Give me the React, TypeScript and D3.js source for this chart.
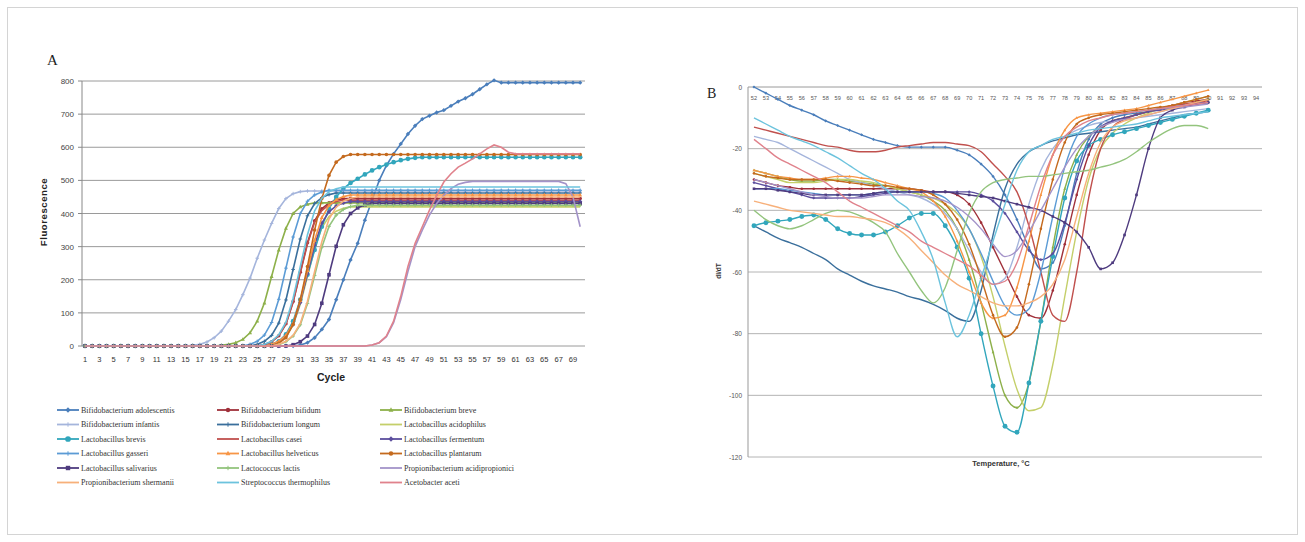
import React from 'react';
import * as d3 from 'd3';

// ---------- Panel A data (cycles 1..70) ----------
const cycleTicks = [1,3,5,7,9,11,13,15,17,19,21,23,25,27,29,31,33,35,37,39,41,43,45,47,49,51,53,55,57,59,61,63,65,67,69];
const cycles = [1,2,3,4,5,6,7,8,9,10,11,12,13,14,15,16,17,18,19,20,21,22,23,24,25,26,27,28,29,30,31,32,33,34,35,36,37,38,39,40,41,42,43,44,45,46,47,48,49,50,51,52,53,54,55,56,57,58,59,60,61,62,63,64,65,66,67,68,69,70];
const yTicksA = [0,100,200,300,400,500,600,700,800];

const seriesNames = [
  'Bifidobacterium adolescentis','Bifidobacterium bifidum','Bifidobacterium breve',
  'Bifidobacterium infantis','Bifidobacterium longum','Lactobacillus acidophilus',
  'Lactobacillus brevis','Lactobacillus casei','Lactobacillus fermentum',
  'Lactobacillus gasseri','Lactobacillus helveticus','Lactobacillus plantarum',
  'Lactobacillus salivarius','Lactococcus lactis','Propionibacterium acidipropionici',
  'Propionibacterium shermanii','Streptococcus thermophilus','Acetobacter aceti',
];
const seriesColors = ['#4A7EBB','#A0303A','#8DB04A','#A5B5DC','#3A6F9C','#C4CF6A','#31A6BC','#C0504D','#5C4E9E','#5B9BD5','#F79646','#C46A1E','#4E3B7F','#93C47D','#A393C9','#F7B07A','#6CC3DD','#E0828C'];
const seriesMarkers = ['diamond','circle','triangle','plus','plus','none','bigcircle','none','diamond','plus','triangle','circle','square','plus','none','none','none','none'];

const A_adolescentis = [0,0,0,0,0,0,0,0,0,0, 0,0,0,0,0,0,0,0,0,0, 0,0,0,0,0,0,0,0,0,0, 3,10,25,50,80,140,200,260,310,380, 440,500,545,580,610,640,665,685,695,705, 712,725,738,748,760,775,790,802,795,795, 795,795,795,795,795,795,795,795,795,795];
const A_bifidum = [0,0,0,0,0,0,0,0,0,0, 0,0,0,0,0,0,0,0,0,0, 0,0,0,0,0,4,13,31,67,134, 223,312,378,414,432,441,445,445,445,445, 445,445,445,445,445,445,445,445,445,445, 445,445,445,445,445,445,445,445,445,445, 445,445,445,445,445,445,445,445,445,445];
const A_breve = [0,0,0,0,0,0,0,0,0,0, 0,0,0,0,0,0,0,0,0,2, 5,10,20,40,75,130,210,290,355,400, 420,428,432,432,432,432,432,432,432,432, 432,432,432,432,432,432,432,432,432,432, 432,432,432,432,432,432,432,432,432,432, 432,432,432,432,432,432,432,432,432,432];
const A_infantis = [0,0,0,0,0,0,0,0,0,0, 0,0,0,0,0,2,5,12,25,45, 75,110,155,205,265,320,370,415,445,460, 466,468,468,468,468,468,468,468,468,468, 468,468,468,468,468,468,468,468,468,468, 468,468,468,468,468,468,468,468,468,468, 468,468,468,468,468,468,468,468,468,468];
const A_longum = [0,0,0,0,0,0,0,0,0,0, 0,0,0,0,0,0,0,0,0,0, 0,0,0,0,5,14,32,69,139,231, 323,393,430,448,457,462,462,462,462,462, 462,462,462,462,462,462,462,462,462,462, 462,462,462,462,462,462,462,462,462,462, 462,462,462,462,462,462,462,462,462,462];
const A_acidophilus = [0,0,0,0,0,0,0,0,0,0, 0,0,0,0,0,0,0,0,0,0, 0,0,0,0,0,0,4,13,29,63, 126,210,294,357,391,407,416,420,420,420, 420,420,420,420,420,420,420,420,420,420, 420,420,420,420,420,420,420,420,420,420, 420,420,420,420,420,420,420,420,420,420];
const A_brevis = [0,0,0,0,0,0,0,0,0,0, 0,0,0,0,0,0,0,0,0,0, 0,0,0,0,0,0,5,14,35,75, 140,215,290,360,415,450,475,492,505,518, 530,540,548,555,561,565,568,570,570,570, 570,570,570,570,570,570,570,570,570,570, 570,570,570,570,570,570,570,570,570,570];
const A_casei = [0,0,0,0,0,0,0,0,0,0, 0,0,0,0,0,0,0,0,0,0, 0,0,0,0,0,4,13,31,66,132, 220,308,374,409,427,436,440,440,440,440, 440,440,440,440,440,440,440,440,440,440, 440,440,440,440,440,440,440,440,440,440, 440,440,440,440,440,440,440,440,440,440];
const A_fermentum = [0,0,0,0,0,0,0,0,0,0, 0,0,0,0,0,0,0,0,0,0, 0,0,0,0,0,0,4,13,31,65, 131,218,305,371,405,423,432,436,436,436, 436,436,436,436,436,436,436,436,436,436, 436,436,436,436,436,436,436,436,436,436, 436,436,436,436,436,436,436,436,436,436];
const A_gasseri = [0,0,0,0,0,0,0,0,0,0, 0,0,0,0,0,0,0,0,0,0, 0,0,0,5,14,33,71,141,235,329, 400,437,456,465,470,470,470,470,470,470, 470,470,470,470,470,470,470,470,470,470, 470,470,470,470,470,470,470,470,470,470, 470,470,470,470,470,470,470,470,470,470];
const A_helveticus = [0,0,0,0,0,0,0,0,0,0, 0,0,0,0,0,0,0,0,0,0, 0,0,0,0,0,0,5,14,32,68, 137,228,319,388,424,442,451,456,456,456, 456,456,456,456,456,456,456,456,456,456, 456,456,456,456,456,456,456,456,456,456, 456,456,456,456,456,456,456,456,456,456];
const A_plantarum = [0,0,0,0,0,0,0,0,0,0, 0,0,0,0,0,0,0,0,0,0, 0,0,0,0,0,0,0,8,25,65, 140,240,350,445,515,555,572,578,578,578, 578,578,578,578,578,578,578,578,578,578, 578,578,578,578,578,578,578,578,578,578, 578,578,578,578,578,578,578,578,578,578];
const A_salivarius = [0,0,0,0,0,0,0,0,0,0, 0,0,0,0,0,0,0,0,0,0, 0,0,0,0,0,0,0,0,0,4, 13,30,65,129,215,301,366,400,417,426, 430,430,430,430,430,430,430,430,430,430, 430,430,430,430,430,430,430,430,430,430, 430,430,430,430,430,430,430,430,430,430];
const A_lactis = [0,0,0,0,0,0,0,0,0,0, 0,0,0,0,0,0,0,0,0,0, 0,0,0,0,0,0,0,4,13,30, 64,128,213,298,361,395,412,421,425,425, 425,425,425,425,425,425,425,425,425,425, 425,425,425,425,425,425,425,425,425,425, 425,425,425,425,425,425,425,425,425,425];
const A_acidipropionici = [0,0,0,0,0,0,0,0,0,0, 0,0,0,0,0,0,0,0,0,0, 0,0,0,0,0,0,0,0,0,0, 0,0,0,0,0,0,0,0,0,0, 3,10,28,70,140,225,300,350,395,430, 455,475,488,494,497,497,497,497,497,497, 497,497,497,497,497,497,497,490,450,360];
const A_shermanii = [0,0,0,0,0,0,0,0,0,0, 0,0,0,0,0,0,0,0,0,0, 0,0,0,0,0,0,0,5,14,32, 68,135,225,315,383,419,437,446,450,450, 450,450,450,450,450,450,450,450,450,450, 450,450,450,450,450,450,450,450,450,450, 450,450,450,450,450,450,450,450,450,450];
const A_thermophilus = [0,0,0,0,0,0,0,0,0,0, 0,0,0,0,0,0,0,0,0,0, 0,0,0,0,0,5,14,34,72,144, 240,336,408,446,466,475,480,480,480,480, 480,480,480,480,480,480,480,480,480,480, 480,480,480,480,480,480,480,480,480,480, 480,480,480,480,480,480,480,480,480,480];
const A_aceti = [0,0,0,0,0,0,0,0,0,0, 0,0,0,0,0,0,0,0,0,0, 0,0,0,0,0,0,0,0,0,0, 0,0,0,0,0,0,0,0,0,0, 3,10,30,75,150,240,310,360,410,455, 495,520,540,552,565,580,595,607,600,585, 580,580,580,580,580,580,580,580,580,580];

const seriesA = [A_adolescentis,A_bifidum,A_breve,A_infantis,A_longum,A_acidophilus,A_brevis,A_casei,A_fermentum,A_gasseri,A_helveticus,A_plantarum,A_salivarius,A_lactis,A_acidipropionici,A_shermanii,A_thermophilus,A_aceti];

// ---------- Panel B data (temperature 52..90 °C) ----------
const tempCategories = [52,53,54,55,56,57,58,59,60,61,62,63,64,65,66,67,68,69,70,71,72,73,74,75,76,77,78,79,80,81,82,83,84,85,86,87,88,89,90,91,92,93,94];
const tempsData = [52,53,54,55,56,57,58,59,60,61,62,63,64,65,66,67,68,69,70,71,72,73,74,75,76,77,78,79,80,81,82,83,84,85,86,87,88,89,90];
const yTicksB = [0,-20,-40,-60,-80,-100,-120];

const B_adolescentis = [0,-2,-4,-6,-7.5,-9,-11,-12.5,-14,-15.5, -17,-18,-19,-19.5,-19.5,-19.5,-19.5,-20.5,-22,-25, -29,-35,-43,-52,-59,-57,-45,-28,-17,-12, -10,-9,-8.5,-8,-7,-6.5,-6,-5.5,-5];
const B_bifidum = [-30,-31,-32,-32.5,-33,-33,-33,-33,-33,-33, -33,-33,-33,-33,-33.5,-34,-34,-35,-38,-44, -52,-60,-68,-74,-75,-66,-51,-35,-22,-14, -11,-10,-9,-8,-7,-6,-5,-4.5,-4];
const B_breve = [-27,-28,-29,-30,-30.5,-30.5,-30,-30,-30.5,-31, -31.5,-32,-33,-34,-35,-37,-40,-46,-56,-70, -86,-100,-104,-96,-76,-52,-33,-22,-16,-13, -11,-10,-9,-8,-7,-6.5,-6,-5,-4];
const B_infantis = [-16,-17,-18,-20,-22,-24,-26,-28,-30,-31, -32,-33,-34,-35,-36,-38,-41,-46,-53,-60, -64,-62,-52,-38,-27,-20,-16,-14,-12.5,-11.5, -11,-10.5,-10,-9.5,-9,-8.5,-8,-7.5,-7];
const B_longum = [-45,-47,-49,-50.5,-52,-54,-56,-59,-61,-63, -64.5,-65.5,-66.5,-68,-69,-70.5,-72.5,-75,-76,-66, -48,-33,-25,-21,-19,-17.5,-16.5,-15.5,-15,-14.5, -14,-13.5,-13,-12,-11,-10,-9,-8.5,-8];
const B_acidophilus = [-28,-29,-30,-31,-31,-31,-30.5,-30,-30,-30.5, -31,-32,-33,-34,-35,-36,-38,-41,-46,-55, -68,-84,-98,-105,-104,-90,-68,-47,-30,-20, -15,-12,-10,-8.5,-7,-6,-5,-4,-3];
const B_brevis = [-45,-44,-43.5,-43,-42,-41.5,-43,-46,-47.5,-48, -48,-47,-45,-42.5,-41,-41,-45,-52,-62,-80, -97,-110,-112,-96,-76,-55,-36,-24,-19,-17, -15.5,-14.5,-13.5,-12.5,-11.5,-10.5,-9.5,-8.5,-7.5];
const B_casei = [-13,-14,-15,-16,-17,-18,-19,-19.5,-20.5,-21, -21,-20.5,-19.5,-19,-18.5,-18,-18,-18.5,-19,-21, -25,-29,-34,-45,-60,-74,-76,-60,-36,-20, -13,-10.5,-9,-8,-7,-6,-5.5,-5,-4.5];
const B_fermentum = [-31,-32,-33,-34,-35,-36,-36,-36,-36,-35.5, -35,-34.5,-34,-34,-34,-34,-34,-34,-34,-35, -37,-41,-47,-53,-56,-54,-44,-30,-19,-13, -11,-10,-9,-8,-7.5,-7,-6,-5.5,-5];
const B_gasseri = [-33,-33,-33,-33.5,-34,-34.5,-35,-35,-35,-35, -34.5,-34,-34,-34,-34,-34.5,-36,-40,-46,-54, -63,-71,-74,-72,-60,-42,-26,-16,-12,-10, -9,-8.5,-8,-7.5,-7,-6.5,-6,-5.5,-5];
const B_helveticus = [-27,-28,-29,-29.5,-30,-30,-29.5,-29,-29,-29.5, -30,-31,-32,-33,-34,-37,-42,-50,-60,-70, -75,-74,-65,-50,-35,-22,-14,-10,-9,-8.5, -8,-7.5,-7,-6,-5,-4,-3,-2,-1];
const B_plantarum = [-28,-29,-29.5,-30,-30,-30,-30,-30.5,-31,-31.5, -32,-32,-32.5,-33,-33.5,-35,-38,-43,-51,-62, -74,-81,-78,-64,-46,-30,-18,-12,-10,-9, -8.5,-8,-7.5,-7,-6.5,-6,-5,-4,-3];
const B_salivarius = [-33,-33,-33.5,-34,-34.5,-35,-35,-35,-35,-35, -34.5,-34,-34,-34,-34,-34,-34,-34.5,-35,-35.5, -36,-37,-38,-39,-40,-42,-44,-47,-52,-59, -57,-48,-35,-20,-10,-7.5,-6.5,-5.5,-5];
const B_lactis = [-40,-43,-45,-46,-45,-43,-41,-40,-40.5,-42, -44,-47,-54,-60,-66,-70,-65,-53,-41,-34, -31,-30,-29.5,-29,-29,-28.5,-28,-27.5,-27,-26, -25,-23.5,-21,-18,-15.5,-13.5,-12.5,-12.5,-13.5];
const B_acidipropionici = [-30,-31,-32,-33,-34,-35,-35.5,-36,-36,-36, -35.5,-35,-35,-35,-35.5,-36,-37,-39,-42,-46, -51,-55,-53,-47,-40,-33,-26,-20,-16,-13, -11.5,-10.5,-10,-9,-8,-7,-6.5,-6,-5.5];
const B_shermanii = [-37,-38,-39,-40,-40.5,-41,-41.5,-42,-42,-42.5, -43,-44,-46,-49,-53,-57,-61,-64,-66,-68, -70,-71,-71,-70,-68,-64,-56,-42,-28,-18, -13,-11,-10,-9,-8,-7,-6,-5,-4];
const B_thermophilus = [-10,-12,-14,-16,-17.5,-19,-21,-23,-25.5,-28, -30,-33,-37,-40,-47,-56,-70,-81,-74,-62, -50,-38,-27,-21,-19,-17,-16,-15,-14,-13.5, -13,-12.5,-12,-11,-10,-9.5,-9,-8.5,-8];
const B_aceti = [-17,-20,-23,-25,-27,-29,-31,-34,-37,-39, -41,-43,-45,-47,-50,-52,-54,-56,-58,-61, -64,-63,-57,-45,-32,-22,-16,-13,-11,-10, -9,-8.5,-8,-7.5,-7,-6.5,-6,-5.5,-5];

const seriesB = [B_adolescentis,B_bifidum,B_breve,B_infantis,B_longum,B_acidophilus,B_brevis,B_casei,B_fermentum,B_gasseri,B_helveticus,B_plantarum,B_salivarius,B_lactis,B_acidipropionici,B_shermanii,B_thermophilus,B_aceti];

// ---------- helpers ----------
function Marker({ type, x, y, color, s }: { type: string; x: number; y: number; color: string; s: number }) {
  if (type === 'none') return null;
  if (type === 'circle') return <circle cx={x} cy={y} r={s} fill={color} />;
  if (type === 'bigcircle') return <circle cx={x} cy={y} r={s * 1.3} fill={color} />;
  if (type === 'diamond') return <path d={`M${x},${y - s * 1.2}L${x + s * 1.2},${y}L${x},${y + s * 1.2}L${x - s * 1.2},${y}Z`} fill={color} />;
  if (type === 'square') return <rect x={x - s} y={y - s} width={s * 2} height={s * 2} fill={color} />;
  if (type === 'triangle') return <path d={`M${x},${y - s * 1.2}L${x + s * 1.1},${y + s * 0.8}L${x - s * 1.1},${y + s * 0.8}Z`} fill={color} />;
  if (type === 'plus') return <path d={`M${x - s},${y}H${x + s}M${x},${y - s}V${y + s}`} stroke={color} strokeWidth={1} />;
  return null;
}

const W = 1305, H = 542;

export default function App() {
  // Panel A scales
  const xA = d3.scaleLinear().domain([1, 69]).range([85, 573]);
  const yA = d3.scaleLinear().domain([0, 800]).range([346, 81]);
  const lineA = d3.line<number>().x((_, i) => xA(cycles[i])).y(v => yA(v));
  const plotA = { l: 82, r: 585 };

  // Panel B scales
  const xB = d3.scaleBand<number>().domain(tempCategories).range([748, 1262]);
  const bw = xB.bandwidth();
  const cx = (t: number) => (xB(t) as number) + bw / 2;
  const yB = d3.scaleLinear().domain([-120, 0]).range([457, 87]);
  const lineB = d3.line<number>().x((_, i) => cx(tempsData[i])).y(v => yB(v)).curve(d3.curveMonotoneX);

  const legendCols = [57, 217, 380];
  const legendY0 = 410, legendDy = 14.5;

  return (
    <svg width={W} height={H} style={{ position: 'absolute', left: 0, top: 0, background: '#fff' }}>
      <rect x={7.5} y={7.5} width={1290} height={527} fill="#fff" stroke="#d4d4d4" />

      {/* ===== Panel A ===== */}
      <text x={47} y={65} fontFamily="Liberation Serif, serif" fontSize={15} fill="#222">A</text>
      {yTicksA.map(t => (
        <g key={'ga' + t}>
          <line x1={plotA.l} x2={plotA.r} y1={yA(t)} y2={yA(t)} stroke="#9a9a9a" strokeWidth={1} />
          <line x1={plotA.l - 4} x2={plotA.l} y1={yA(t)} y2={yA(t)} stroke="#888" />
          <text x={74} y={yA(t) + 3} textAnchor="end" fontFamily="Liberation Sans, Arial, sans-serif" fontSize={8} fill="#444">{t}</text>
        </g>
      ))}
      <line x1={plotA.l} x2={plotA.l} y1={yA(800)} y2={yA(0)} stroke="#888" />
      {cycleTicks.map(c => (
        <text key={'xa' + c} x={xA(c)} y={362} textAnchor="middle" fontFamily="Liberation Sans, Arial, sans-serif" fontSize={7.5} fill="#333">{c}</text>
      ))}
      <text x={331} y={381} textAnchor="middle" fontFamily="Liberation Sans, Arial, sans-serif" fontWeight="bold" fontSize={10.5} fill="#222">Cycle</text>
      <text transform={`translate(47,212) rotate(-90)`} textAnchor="middle" fontFamily="Liberation Sans, Arial, sans-serif" fontWeight="bold" fontSize={9.5} letterSpacing={0.6} fill="#222">Fluorescence</text>

      {seriesA.map((s, k) => (
        <g key={'sa' + k}>
          <path d={lineA(s) || ''} fill="none" stroke={seriesColors[k]} strokeWidth={1.6} />
          {s.map((v, i) => (
            <Marker key={i} type={seriesMarkers[k]} x={xA(cycles[i])} y={yA(v)} color={seriesColors[k]} s={1.8} />
          ))}
        </g>
      ))}

      {/* Legend */}
      {seriesNames.map((n, k) => {
        const col = k % 3, row = Math.floor(k / 3);
        const lx = legendCols[col], ly = legendY0 + row * legendDy;
        return (
          <g key={'lg' + k}>
            <line x1={lx} x2={lx + 22} y1={ly} y2={ly} stroke={seriesColors[k]} strokeWidth={1.8} />
            <Marker type={seriesMarkers[k]} x={lx + 11} y={ly} color={seriesColors[k]} s={2.2} />
            <text x={lx + 24} y={ly + 2.8} fontFamily="Liberation Serif, serif" fontSize={8} fill="#333">{n}</text>
          </g>
        );
      })}

      {/* ===== Panel B ===== */}
      <text x={707} y={98} fontFamily="Liberation Serif, serif" fontSize={14} fill="#222">B</text>
      {yTicksB.map(t => (
        <g key={'gb' + t}>
          <line x1={748} x2={1262} y1={yB(t)} y2={yB(t)} stroke={t === 0 ? '#9a9a9a' : '#b4b4b4'} strokeWidth={1} />
          <text x={742} y={yB(t) + 2.5} textAnchor="end" fontFamily="Liberation Sans, Arial, sans-serif" fontSize={6.5} fill="#555">{t}</text>
        </g>
      ))}
      <line x1={748} x2={748} y1={yB(0)} y2={yB(-120)} stroke="#999" />
      {tempCategories.map(t => (
        <text key={'xb' + t} x={cx(t)} y={100} textAnchor="middle" fontFamily="Liberation Sans, Arial, sans-serif" fontSize={5.6} fill="#555">{t}</text>
      ))}
      <text x={1001} y={466} textAnchor="middle" fontFamily="Liberation Sans, Arial, sans-serif" fontWeight="bold" fontSize={7.5} fill="#333">Temperature, °C</text>
      <text transform={`translate(721,271) rotate(-90)`} textAnchor="middle" fontFamily="Liberation Sans, Arial, sans-serif" fontWeight="bold" fontSize={6.5} fill="#333">dI/dT</text>

      {seriesB.map((s, k) => (
        <g key={'sb' + k}>
          <path d={lineB(s) || ''} fill="none" stroke={seriesColors[k]} strokeWidth={1.4} />
          {seriesMarkers[k] !== 'none' && seriesMarkers[k] !== 'plus' && s.map((v, i) => (
            <Marker key={i} type={seriesMarkers[k]} x={cx(tempsData[i])} y={yB(v)} color={seriesColors[k]} s={seriesMarkers[k] === 'bigcircle' ? 1.9 : 1.3} />
          ))}
        </g>
      ))}
    </svg>
  );
}
